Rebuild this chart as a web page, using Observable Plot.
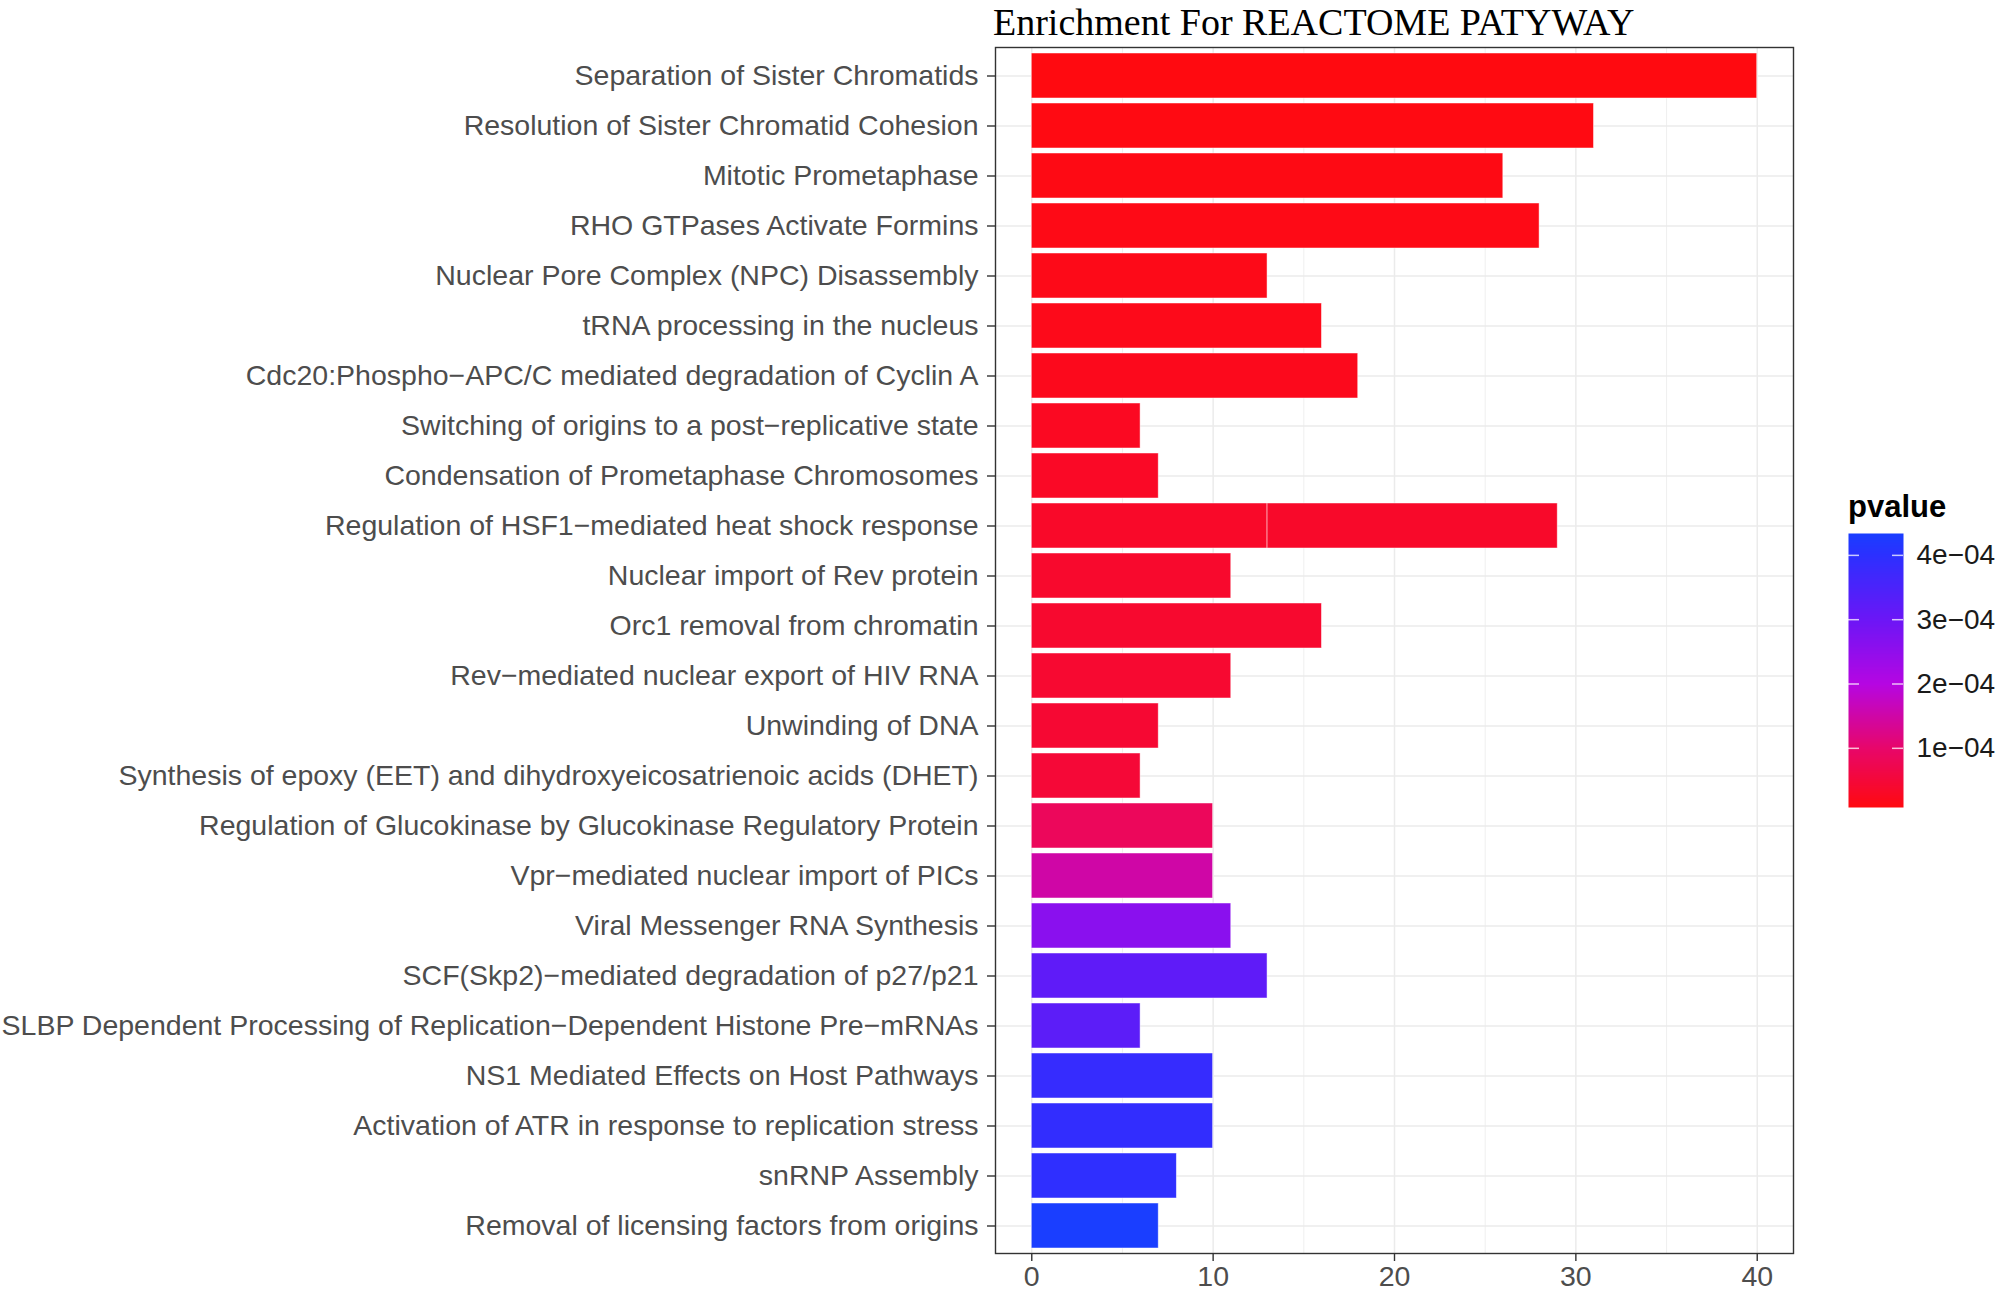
<!DOCTYPE html>
<html>
<head>
<meta charset="utf-8">
<script src="https://cdn.jsdelivr.net/npm/d3@7"></script>
<script src="https://cdn.jsdelivr.net/npm/@observablehq/plot@0.6"></script>
<style>
  html, body { margin: 0; padding: 0; background: #ffffff; }
  #root { position: relative; width: 2000px; height: 1292px; overflow: hidden; background: #ffffff; }
  #title { position: absolute; left: 993px; top: 0px; font-family: "Liberation Serif", "Times New Roman", serif; font-size: 38px; line-height: normal; color: #000; white-space: nowrap; }
  #main { position: absolute; left: 0; top: 0; width: 1800px; }
  #legtitle { position: absolute; left: 1848px; top: 491px; font-family: "Liberation Sans", Arial, sans-serif; font-weight: bold; font-size: 31px; line-height: 31px; color: #000; }
  #legend { position: absolute; left: 1848px; top: 500px; width: 150px; }
</style>
</head>
<body>
<div id="root">
  <div id="main"></div>
  <div id="title">Enrichment For REACTOME PATYWAY</div>
  <div id="legtitle">pvalue</div>
  <div id="legend"></div>
</div>
<script>
// ---- data ----
const terms = [
  "Separation of Sister Chromatids",
  "Resolution of Sister Chromatid Cohesion",
  "Mitotic Prometaphase",
  "RHO GTPases Activate Formins",
  "Nuclear Pore Complex (NPC) Disassembly",
  "tRNA processing in the nucleus",
  "Cdc20:Phospho\u2212APC/C mediated degradation of Cyclin A",
  "Switching of origins to a post\u2212replicative state",
  "Condensation of Prometaphase Chromosomes",
  "Regulation of HSF1\u2212mediated heat shock response",
  "Regulation of HSF1\u2212mediated heat shock response",
  "Nuclear import of Rev protein",
  "Orc1 removal from chromatin",
  "Rev\u2212mediated nuclear export of HIV RNA",
  "Unwinding of DNA",
  "Synthesis of epoxy (EET) and dihydroxyeicosatrienoic acids (DHET)",
  "Regulation of Glucokinase by Glucokinase Regulatory Protein",
  "Vpr\u2212mediated nuclear import of PICs",
  "Viral Messenger RNA Synthesis",
  "SCF(Skp2)\u2212mediated degradation of p27/p21",
  "SLBP Dependent Processing of Replication\u2212Dependent Histone Pre\u2212mRNAs",
  "NS1 Mediated Effects on Host Pathways",
  "Activation of ATR in response to replication stress",
  "snRNP Assembly",
  "Removal of licensing factors from origins"
];
const counts = [40, 31, 26, 28, 13, 16, 18, 6, 7, 13, 16, 11, 16, 11, 7, 6, 10, 10, 11, 13, 6, 10, 10, 8, 7];
const pvalues = [8e-6, 1.0e-5, 1.2e-5, 1.4e-5, 1.6e-5, 1.8e-5, 2.0e-5, 2.6e-5, 3.0e-5, 3.4e-5, 3.5e-5,
                 3.8e-5, 4.0e-5, 4.2e-5, 4.4e-5, 4.8e-5, 0.85e-4, 1.5e-4, 2.6e-4, 3.2e-4, 3.25e-4,
                 3.85e-4, 3.9e-4, 3.95e-4, 4.34e-4];
const xTicks = [0, 10, 20, 30, 40];
const xMinor = [5, 15, 25, 35];
const legendTicks = [1e-4, 2e-4, 3e-4, 4e-4];
const pStops = [8e-6, 1e-4, 2e-4, 3e-4, 4e-4, 4.34e-4];
const colorStops = ["#ff0a10", "#e8066a", "#b606e2", "#6c16f6", "#2c30ff", "#1a3eff"];

// ---- build ----
const rows = terms.map((t, i) => ({term: t, count: counts[i], p: pvalues[i]}));
const yDomain = Array.from(new Set(terms));
const colorScale = {type: "linear", domain: pStops, range: colorStops, interpolate: "rgb"};
const font = "'Liberation Sans', Arial, Helvetica, sans-serif";

const main = Plot.plot({
  width: 1800, height: 1292,
  marginLeft: 995, marginRight: 7, marginTop: 47, marginBottom: 39,
  style: {fontFamily: font, fontSize: "28.5px", background: "transparent", overflow: "visible"},
  x: {domain: [-2, 42]},
  y: {domain: yDomain, paddingInner: 0.1, paddingOuter: 0.11},
  color: colorScale,
  marks: [
    Plot.ruleX(xMinor, {stroke: "#EBEBEB", strokeWidth: 0.8}),
    Plot.ruleX(xTicks, {stroke: "#EBEBEB", strokeWidth: 1.5}),
    Plot.gridY({stroke: "#EBEBEB", strokeWidth: 1.5, strokeOpacity: 1}),
    Plot.barX(rows, {x: "count", y: "term", fill: "p", stroke: "white", strokeWidth: 0.8, strokeOpacity: 0.6}),
    Plot.frame({stroke: "#333333", strokeWidth: 1.4}),
    Plot.axisX(xTicks, {tickSize: 8, tickPadding: 4, stroke: "#333333", fill: "#4D4D4D", strokeWidth: 1.4, label: null}),
    Plot.axisY({tickSize: 8, tickPadding: 9, stroke: "#333333", fill: "#4D4D4D", strokeWidth: 1.4, label: null})
  ]
});
document.getElementById("main").appendChild(main);

function sciFmt(d) {
  const s = d3.format(".0e")(d);
  const parts = s.split("e");
  const n = +parts[1];
  return parts[0] + "e" + (n < 0 ? "\u2212" : "+") + String(Math.abs(n)).padStart(2, "0");
}

const pmin = pStops[0], pmax = pStops[pStops.length - 1];
let rampMark;
try {
  rampMark = Plot.raster({fill: (x, y) => y, x1: 0, x2: 1, y1: pmin, y2: pmax, width: 1, height: 274, imageRendering: "auto"});
} catch (e) {
  const ramp = d3.ticks(pmin, pmax, 300);
  rampMark = Plot.rectY(ramp, {x1: 0, x2: 1, y1: d => d, y2: d => d + (pmax - pmin) / 300, fill: d => d});
}

const legend = Plot.plot({
  width: 150, height: 327,
  marginLeft: 0, marginRight: 95, marginTop: 33, marginBottom: 20,
  style: {fontFamily: font, fontSize: "28px", background: "transparent", overflow: "visible"},
  x: {domain: [0, 1], axis: null},
  y: {domain: [pmin, pmax], axis: null},
  color: colorScale,
  marks: [
    rampMark,
    Plot.ruleY(legendTicks, {x1: 0, x2: 0.2, stroke: "white", strokeWidth: 1.5, strokeOpacity: 0.75}),
    Plot.ruleY(legendTicks, {x1: 0.8, x2: 1, stroke: "white", strokeWidth: 1.5, strokeOpacity: 0.75}),
    Plot.axisY(legendTicks, {anchor: "right", tickSize: 0, tickPadding: 13, tickFormat: sciFmt, fill: "#1a1a1a", label: null})
  ]
});
document.getElementById("legend").appendChild(legend);
</script>
</body>
</html>
